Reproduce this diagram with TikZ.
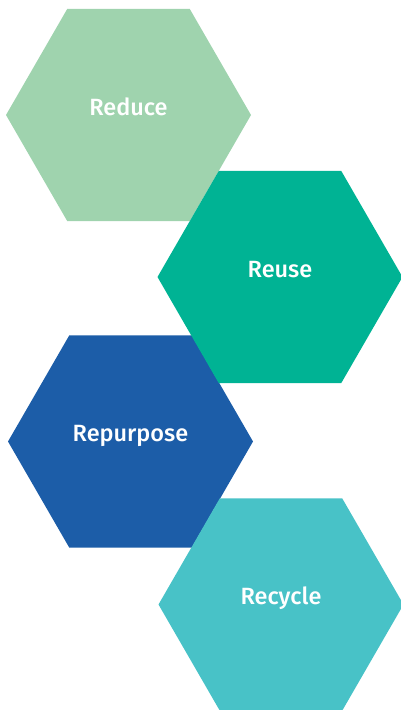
\documentclass[tikz,border=0pt]{standalone}
\usepackage{fontspec}
\usepackage{tikz}
\usetikzlibrary{shapes.geometric}
\newfontfamily\hexfont{Fira Sans Medium}
\definecolor{reducegreen}{HTML}{9FD3AE}
\definecolor{reuseteal}{HTML}{00B394}
\definecolor{repurposeblue}{HTML}{1C5DA8}
\definecolor{recyclecyan}{HTML}{48C2C7}

\begin{document}
\begin{tikzpicture}[x=1pt,y=-1pt,
  hex/.style={regular polygon,regular polygon sides=6,minimum size=245pt,inner sep=0pt,
    text height=16pt,text depth=16pt,fill=#1,text=white,font=\hexfont\fontsize{23.5}{28}\selectfont}]
\useasboundingbox (0,0) rectangle (401,710);
\node [hex=reducegreen] (reduce) at (128.5,115) {Reduce};
\node [hex=repurposeblue] (repurpose) at (130.5,441.5) {Repurpose};
\node [hex=reuseteal] (reuse) at (280,277) {Reuse};
\node [hex=recyclecyan] (recycle) at (281,604.5) {Recycle};
\end{tikzpicture}
\end{document}
